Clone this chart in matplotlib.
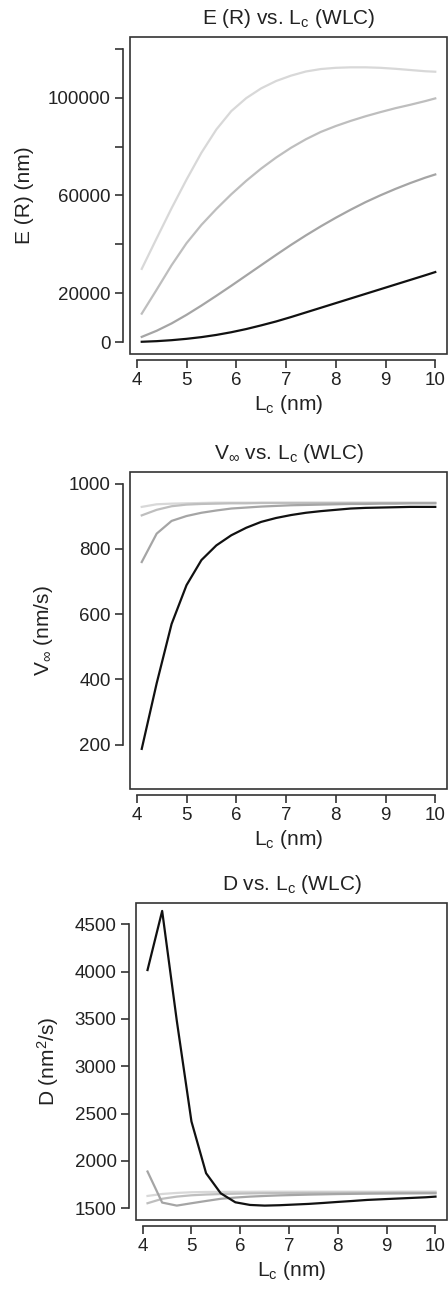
import numpy as np
import matplotlib
matplotlib.use("Agg")
import matplotlib.pyplot as plt
from matplotlib.patches import Rectangle

plt.rcParams['font.family'] = ['Liberation Sans', 'DejaVu Sans']
plt.rcParams['mathtext.fontset'] = 'custom'
plt.rcParams['mathtext.rm'] = 'Liberation Sans'
plt.rcParams['mathtext.it'] = 'Liberation Sans'
plt.rcParams['mathtext.bf'] = 'Liberation Sans'

# contour length grid (nm)
lc = [4.1, 4.4, 4.7, 5.0, 5.3, 5.6, 5.9, 6.2, 6.5, 6.8, 7.1,
      7.4, 7.7, 8.0, 8.3, 8.6, 8.9, 9.2, 9.5, 9.8, 10.0]

# E(R) curves, darkest first
er_black = [200, 450, 850, 1400, 2100, 3000, 4100, 5400, 6900, 8500, 10300,
            12200, 14100, 16000, 17900, 19800, 21700, 23600, 25500, 27400, 28700]
er_dark = [2200, 4700, 7700, 11200, 15000, 19000, 23100, 27300, 31500, 35700, 39800,
           43700, 47400, 50900, 54200, 57300, 60100, 62700, 65100, 67300, 68600]
er_mid = [11700, 21500, 31500, 40500, 48000, 54500, 60500, 66000, 71000, 75500, 79500,
          83000, 86000, 88400, 90500, 92400, 94100, 95700, 97100, 98600, 99700]
er_light = [30000, 42500, 54800, 66500, 77500, 87000, 94500, 99800, 103800, 106800, 109000,
            110700, 111700, 112200, 112400, 112400, 112200, 111800, 111300, 110800, 110600]

# V_inf curves
v_black = [187, 388, 570, 689, 766, 811, 842, 865, 883, 895, 904,
           911, 916, 920, 924, 926, 927, 928, 929, 929, 929]
v_dark = [760, 847, 886, 901, 911, 918, 924, 927, 930, 932, 934,
          935, 936, 937, 938, 938, 939, 939, 940, 940, 940]
v_mid = [903, 920, 931, 936, 938, 939, 940, 940, 941, 941, 941,
         941, 941, 941, 941, 941, 941, 941, 941, 941, 941]
v_light = [929, 937, 939, 940, 941, 942, 942, 942, 942, 942, 942,
           942, 942, 942, 942, 942, 942, 942, 942, 942, 942]

# D curves
d_black = [4016, 4640, 3480, 2417, 1870, 1658, 1563, 1535, 1528, 1532, 1539,
           1546, 1556, 1567, 1577, 1588, 1595, 1602, 1609, 1616, 1623]
d_dark = [1888, 1560, 1528, 1553, 1577, 1600, 1613, 1623, 1630, 1636, 1640,
          1644, 1647, 1650, 1652, 1654, 1655, 1656, 1657, 1658, 1658]
d_mid = [1553, 1600, 1623, 1637, 1645, 1650, 1654, 1657, 1659, 1660, 1661,
         1662, 1663, 1663, 1664, 1664, 1664, 1665, 1665, 1665, 1665]
d_light = [1630, 1651, 1662, 1669, 1672, 1673, 1674, 1674, 1675, 1675, 1675,
           1675, 1675, 1675, 1675, 1675, 1675, 1676, 1676, 1676, 1676]

colors = ['#111111', '#a5a5a5', '#bebebe', '#d8d8d8']
xticks = [4, 5, 6, 7, 8, 9, 10]

W, H = 448, 1296
fig = plt.figure(figsize=(W / 100, H / 100), dpi=100)


def make_axes(left, top, right, bottom):
    return fig.add_axes([left / W, 1 - bottom / H, (right - left) / W, (bottom - top) / H])


def style(ax, ylim, yticks, ylabels, ybounds, title, ylabel):
    pad = 0.04
    ax.set_xlim(4.1 - pad * 5.9, 10 + pad * 5.9)
    ax.set_ylim(ylim[0] - pad * (ylim[1] - ylim[0]), ylim[1] + pad * (ylim[1] - ylim[0]))
    for s in ax.spines.values():
        s.set_visible(False)
    ax.add_patch(Rectangle((0, 0), 1, 1, transform=ax.transAxes, fill=False,
                           edgecolor='#333333', linewidth=1.2, clip_on=False, zorder=5))
    ax.spines['left'].set_visible(True)
    ax.spines['bottom'].set_visible(True)
    ax.spines['left'].set_position(('outward', 5))
    ax.spines['bottom'].set_position(('outward', 4))
    ax.spines['left'].set_bounds(ybounds[0], ybounds[1])
    ax.spines['bottom'].set_bounds(4, 10)
    for s in ('left', 'bottom'):
        ax.spines[s].set_color('#333333')
        ax.spines[s].set_linewidth(1.2)
    ax.set_xticks(xticks)
    ax.set_xticklabels([str(t) for t in xticks])
    ax.set_yticks(yticks)
    ax.set_yticklabels(ylabels)
    ax.tick_params(length=6, width=1.2, color='#333333', labelsize=13.5,
                   labelcolor='#222222', pad=3)
    ax.set_title(title, fontsize=15, color='#222222', pad=9)
    ax.set_xlabel(r'L$_\mathregular{c}$ (nm)', fontsize=15, color='#222222', labelpad=3)
    ax.set_ylabel(ylabel, fontsize=15, color='#222222', labelpad=10)


# panel 1: E(R)
ax1 = make_axes(130, 37, 447, 354)
for ys, c in zip([er_light, er_mid, er_dark, er_black], colors[::-1]):
    ax1.plot(lc, ys, color=c, lw=1.6)
style(ax1, (0, 120000), [0, 20000, 40000, 60000, 80000, 100000, 120000],
      ['0', '20000', '', '60000', '', '100000', ''], (0, 120000),
      r'E (R) vs. L$_\mathregular{c}$ (WLC)', 'E (R) (nm)')

# panel 2: V_inf
ax2 = make_axes(130, 472, 447, 789)
for ys, c in zip([v_light, v_mid, v_dark, v_black], colors[::-1]):
    ax2.plot(lc, ys, color=c, lw=1.6)
style(ax2, (100, 1000), [200, 400, 600, 800, 1000],
      ['200', '400', '600', '800', '1000'], (200, 1000),
      r'V$_\infty$ vs. L$_\mathregular{c}$ (WLC)', r'V$_\infty$ (nm/s)')

# panel 3: D
ax3 = make_axes(136, 903, 447, 1220)
for ys, c in zip([d_light, d_mid, d_dark, d_black], colors[::-1]):
    ax3.plot(lc, ys, color=c, lw=1.6)
style(ax3, (1500, 4600), [1500, 2000, 2500, 3000, 3500, 4000, 4500],
      ['1500', '2000', '2500', '3000', '3500', '4000', '4500'], (1500, 4500),
      r'D vs. L$_\mathregular{c}$ (WLC)', r'D (nm$^\mathregular{2}$/s)')

fig.savefig('out.png', dpi=100)
